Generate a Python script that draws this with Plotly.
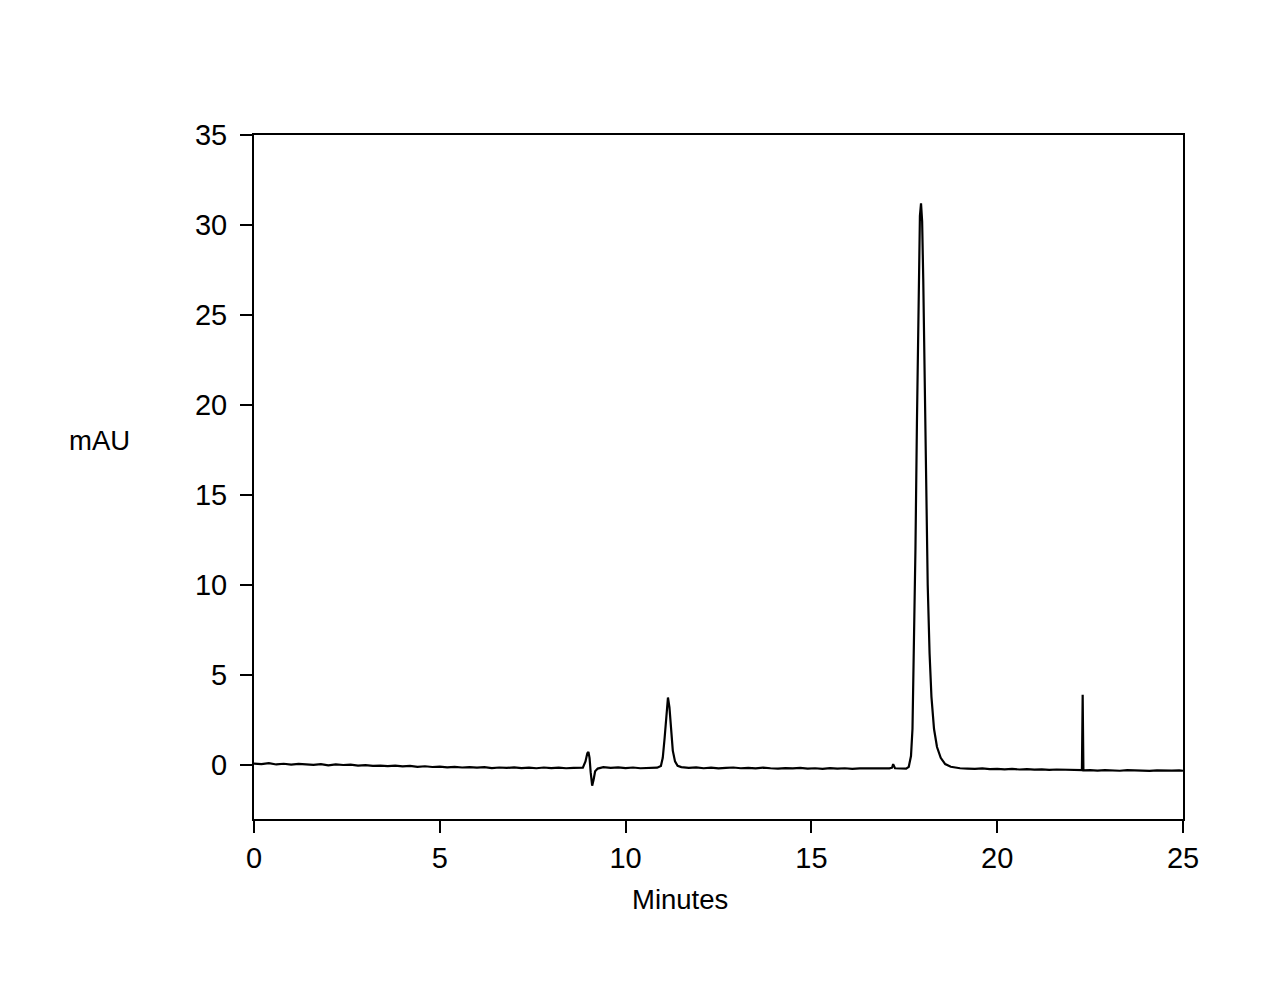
import plotly.graph_objects as go

# Retention time (minutes) and detector signal (mAU)
time_min = [
    0.0, 0.2, 0.4, 0.6, 0.8, 1.0, 1.2, 1.4, 1.6, 1.8, 2.0, 2.2, 2.4, 2.6, 2.8,
    3.0, 3.2, 3.4, 3.6, 3.8, 4.0, 4.2, 4.4, 4.6, 4.8, 5.0, 5.2, 5.4, 5.6, 5.8,
    6.0, 6.2, 6.4, 6.6, 6.8, 7.0, 7.2, 7.4, 7.6, 7.8, 8.0, 8.2, 8.4, 8.6, 8.85,
    8.92, 8.97, 9.0, 9.03, 9.06, 9.1, 9.14, 9.18, 9.25, 9.4, 9.6, 9.8, 10.0,
    10.2, 10.4, 10.6, 10.85, 10.95, 11.0, 11.05, 11.1, 11.14, 11.18, 11.22,
    11.27, 11.33, 11.4, 11.5, 11.7, 11.9, 12.1, 12.3, 12.5, 12.7, 12.9, 13.1,
    13.3, 13.5, 13.7, 13.9, 14.1, 14.3, 14.5, 14.7, 14.9, 15.1, 15.3, 15.5,
    15.7, 15.9, 16.1, 16.3, 16.5, 16.7, 16.9, 17.1, 17.17, 17.2, 17.25, 17.4,
    17.55, 17.62, 17.68, 17.72, 17.76, 17.8, 17.84, 17.88, 17.92, 17.95, 17.98,
    18.01, 18.05, 18.09, 18.13, 18.18, 18.23, 18.3, 18.38, 18.48, 18.6, 18.75,
    19.0, 19.2, 19.4, 19.6, 19.8, 20.0, 20.2, 20.4, 20.6, 20.8, 21.0, 21.2,
    21.4, 21.6, 21.8, 22.0, 22.2, 22.28, 22.3, 22.32, 22.5, 22.7, 22.9, 23.1,
    23.3, 23.5, 23.7, 23.9, 24.1, 24.3, 24.5, 24.7, 24.9, 25.0,
]
signal_mau = [
    0.08, 0.05, 0.10, 0.03, 0.07, 0.02, 0.06, 0.04, 0.01, 0.05, -0.02, 0.03, 0.00, 0.02, -0.03,
    -0.01, -0.05, -0.04, -0.06, -0.03, -0.08, -0.05, -0.10, -0.07, -0.11, -0.09, -0.13, -0.10, -0.14, -0.12,
    -0.15, -0.12, -0.17, -0.14, -0.16, -0.13, -0.17, -0.15, -0.18, -0.14, -0.17, -0.15, -0.18, -0.16, -0.15,
    0.20, 0.65, 0.72, 0.40, -0.40, -1.15, -0.80, -0.35, -0.20, -0.12, -0.16, -0.13, -0.17,
    -0.14, -0.18, -0.15, -0.15, -0.05, 0.40, 1.50, 3.10, 3.75, 3.20, 1.90,
    0.80, 0.20, -0.05, -0.12, -0.16, -0.13, -0.18, -0.15, -0.19, -0.16, -0.14, -0.18,
    -0.16, -0.19, -0.15, -0.18, -0.20, -0.17, -0.19, -0.16, -0.20, -0.18, -0.21, -0.17,
    -0.20, -0.18, -0.21, -0.19, -0.20, -0.18, -0.21, -0.19, -0.15, 0.05, -0.18, -0.20,
    -0.20, -0.10, 0.50, 2.00, 6.00, 12.0, 19.0, 26.0, 30.5, 31.2, 30.2,
    27.0, 21.0, 15.0, 10.0, 6.2, 3.8, 2.0, 1.0, 0.40, 0.05, -0.10,
    -0.18, -0.20, -0.22, -0.19, -0.23, -0.21, -0.24, -0.22, -0.25, -0.23, -0.26, -0.24,
    -0.27, -0.25, -0.26, -0.28, -0.27, -0.28, 3.90, -0.30, -0.29, -0.31, -0.28, -0.30,
    -0.32, -0.29, -0.31, -0.30, -0.33, -0.30, -0.32, -0.31, -0.30, -0.32,
]

x_ticks = [0, 5, 10, 15, 20, 25]
y_ticks = [0, 5, 10, 15, 20, 25, 30, 35]

FONT = "Liberation Sans, Arial, sans-serif"
TICK_SIZE = 29
TITLE_SIZE = 27.5

fig = go.Figure()
fig.add_trace(go.Scatter(
    x=time_min, y=signal_mau, mode="lines",
    line=dict(color="black", width=2.2), showlegend=False,
))

fig.update_layout(
    width=1273, height=987,
    margin=dict(l=246, r=98, t=127, b=176),
    paper_bgcolor="white", plot_bgcolor="white",
    font=dict(family=FONT, size=TICK_SIZE, color="black"),
    xaxis=dict(
        range=[0, 25], tickvals=x_ticks, ticks="outside", ticklen=12, tickwidth=2,
        tickcolor="black", showline=True, linecolor="black", linewidth=2,
        mirror=True, showgrid=False, zeroline=False,
        tickfont=dict(family=FONT, size=TICK_SIZE, color="black"),
    ),
    yaxis=dict(
        range=[-3, 35], tickvals=y_ticks, ticks="outside", ticklen=12, tickwidth=2,
        tickcolor="black", showline=True, linecolor="black", linewidth=2,
        mirror=True, showgrid=False, zeroline=False, ticklabelstandoff=7,
        tickfont=dict(family=FONT, size=TICK_SIZE, color="black"),
    ),
    annotations=[
        dict(text="mAU", xref="paper", yref="paper", x=-0.1658, y=0.554,
             xanchor="center", yanchor="middle", showarrow=False,
             font=dict(family=FONT, size=TITLE_SIZE, color="black")),
        dict(text="Minutes", xref="paper", yref="paper", x=0.4586, y=-0.1184,
             xanchor="center", yanchor="middle", showarrow=False,
             font=dict(family=FONT, size=TITLE_SIZE, color="black")),
    ],
)

fig.write_html("out.html")
